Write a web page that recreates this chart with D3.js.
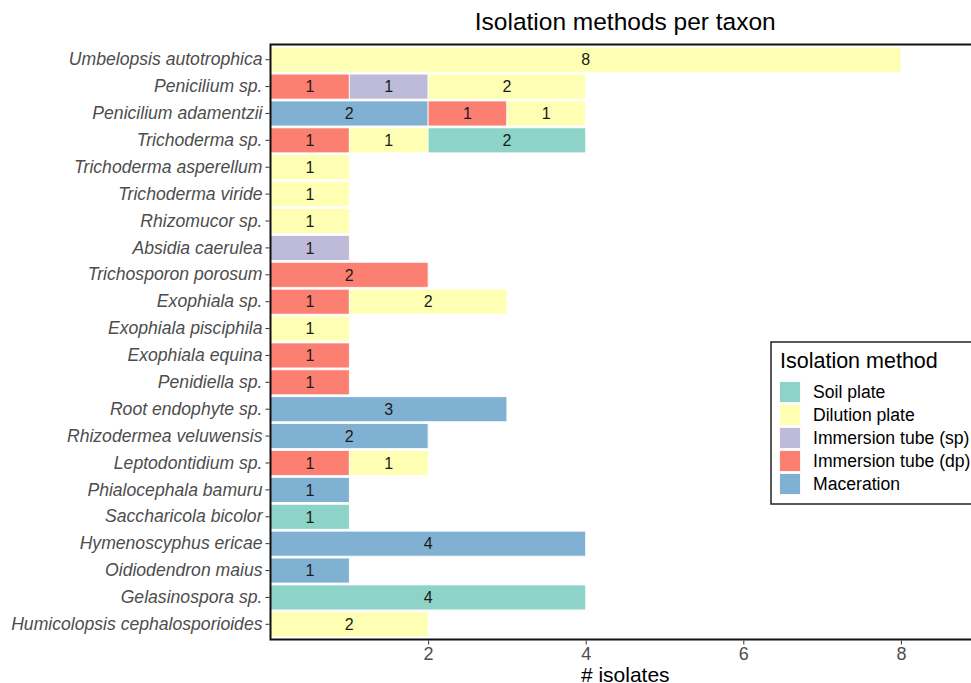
<!DOCTYPE html>
<html>
<head>
<meta charset="utf-8">
<script src="https://cdn.jsdelivr.net/npm/d3@7"></script>
<style>
  html, body { margin: 0; padding: 0; background: #fff; }
  svg { display: block; font-family: "Liberation Sans", Arial, sans-serif; }
</style>
</head>
<body>
<svg id="chart" width="971" height="683"></svg>
<script>
// ---- data ----
const taxa = [
  "Umbelopsis autotrophica", "Penicilium sp.", "Penicilium adamentzii", "Trichoderma sp.",
  "Trichoderma asperellum", "Trichoderma viride", "Rhizomucor sp.", "Absidia caerulea",
  "Trichosporon porosum", "Exophiala sp.", "Exophiala pisciphila", "Exophiala equina",
  "Penidiella sp.", "Root endophyte sp.", "Rhizodermea veluwensis", "Leptodontidium sp.",
  "Phialocephala bamuru", "Saccharicola bicolor", "Hymenoscyphus ericae", "Oidiodendron maius",
  "Gelasinospora sp.", "Humicolopsis cephalosporioides"
];
const soilPlate     = [0,0,0,2,0,0,0,0,0,0,0,0,0,0,0,0,0,1,0,0,4,0];
const dilutionPlate = [8,2,1,1,1,1,1,0,0,2,1,0,0,0,0,1,0,0,0,0,0,2];
const immersionSp   = [0,1,0,0,0,0,0,1,0,0,0,0,0,0,0,0,0,0,0,0,0,0];
const immersionDp   = [0,1,1,1,0,0,0,0,2,1,0,1,1,0,0,1,0,0,0,0,0,0];
const maceration    = [0,0,2,0,0,0,0,0,0,0,0,0,0,3,2,0,1,0,4,1,0,0];

const legendMethods = ["Soil plate", "Dilution plate", "Immersion tube (sp)", "Immersion tube (dp)", "Maceration"];
const methodColors  = ["#8DD3C7", "#FFFFB3", "#BEBADA", "#FB8072", "#80B1D3"];
const xTicks = [2, 4, 6, 8];

const seriesByMethod = {
  "Soil plate": soilPlate,
  "Dilution plate": dilutionPlate,
  "Immersion tube (sp)": immersionSp,
  "Immersion tube (dp)": immersionDp,
  "Maceration": maceration
};
// stacking order from the left
const stackOrder = ["Maceration", "Immersion tube (dp)", "Immersion tube (sp)", "Dilution plate", "Soil plate"];

const rows = taxa.map((t, i) => {
  const r = { taxon: t };
  legendMethods.forEach(m => r[m] = seriesByMethod[m][i]);
  return r;
});

// ---- layout ----
const svg = d3.select("#chart");
const panel = { left: 270.5, right: 980, top: 44.5, bottom: 639.5 };

const x = d3.scaleLinear().domain([0, (panel.right - panel.left) / 78.8]).range([panel.left, panel.right]);
const y = d3.scaleBand().domain(taxa).range([panel.top, panel.bottom]).paddingOuter(0.1).paddingInner(0.07).align(0.5);
const color = d3.scaleOrdinal().domain(legendMethods).range(methodColors);

const stacked = d3.stack().keys(stackOrder)(rows);

// bars
const g = svg.append("g");
stacked.forEach(layer => {
  const key = layer.key;
  layer.forEach(seg => {
    const v = seg[1] - seg[0];
    if (v <= 0) return;
    g.append("rect")
      .attr("x", x(seg[0]))
      .attr("y", y(seg.data.taxon))
      .attr("width", x(seg[1]) - x(seg[0]))
      .attr("height", y.bandwidth())
      .attr("fill", color(key))
      .attr("stroke", "#fff")
      .attr("stroke-width", 0.8);
    g.append("text")
      .attr("x", (x(seg[0]) + x(seg[1])) / 2)
      .attr("y", y(seg.data.taxon) + y.bandwidth() / 2)
      .attr("dy", "0.36em")
      .attr("text-anchor", "middle")
      .attr("font-size", 16)
      .attr("fill", "#1a1a1a")
      .text(v);
  });
});

// panel border
svg.append("rect")
  .attr("x", panel.left).attr("y", panel.top)
  .attr("width", panel.right - panel.left).attr("height", panel.bottom - panel.top)
  .attr("fill", "none").attr("stroke", "#111").attr("stroke-width", 2);

// y axis
const yAxis = svg.append("g")
  .attr("transform", `translate(${panel.left - 1},0)`)
  .call(d3.axisLeft(y).tickSize(4).tickPadding(3));
yAxis.select(".domain").remove();
yAxis.selectAll(".tick line").attr("stroke", "#333").attr("stroke-width", 1);
yAxis.selectAll(".tick text")
  .attr("font-size", 17.6).attr("font-style", "italic").attr("fill", "#4D4D4D")
  .attr("font-family", "Liberation Sans, Arial, sans-serif");

// x axis
const xAxis = svg.append("g")
  .attr("transform", `translate(0,${panel.bottom + 1})`)
  .call(d3.axisBottom(x).tickValues(xTicks).tickSize(4).tickPadding(3).tickFormat(d3.format("d")));
xAxis.select(".domain").remove();
xAxis.selectAll(".tick line").attr("stroke", "#333").attr("stroke-width", 1);
xAxis.selectAll(".tick text")
  .attr("font-size", 18).attr("fill", "#4D4D4D")
  .attr("font-family", "Liberation Sans, Arial, sans-serif");

// axis title
svg.append("text")
  .attr("x", (panel.left + panel.right) / 2).attr("y", 682)
  .attr("text-anchor", "middle").attr("font-size", 21).attr("fill", "#000")
  .text("# isolates");

// title
svg.append("text")
  .attr("x", (panel.left + panel.right) / 2).attr("y", 30)
  .attr("text-anchor", "middle").attr("font-size", 24.5).attr("fill", "#000")
  .text("Isolation methods per taxon");

// legend
const lg = svg.append("g").attr("transform", "translate(771,342)");
lg.append("rect")
  .attr("x", 0).attr("y", 0).attr("width", 240).attr("height", 162)
  .attr("fill", "#fff").attr("stroke", "#222").attr("stroke-width", 1.5);
lg.append("text")
  .attr("x", 9).attr("y", 25.5)
  .attr("font-size", 21.5).attr("fill", "#000")
  .text("Isolation method");
legendMethods.forEach((m, i) => {
  const yy = 39.5 + i * 23;
  lg.append("rect")
    .attr("x", 8.5).attr("y", yy).attr("width", 21).attr("height", 21)
    .attr("fill", color(m)).attr("stroke", "#fff").attr("stroke-width", 0.8);
  lg.append("text")
    .attr("x", 42).attr("y", yy + 10.5).attr("dy", "0.35em")
    .attr("font-size", 17.6).attr("fill", "#000")
    .text(m);
});
</script>
</body>
</html>
